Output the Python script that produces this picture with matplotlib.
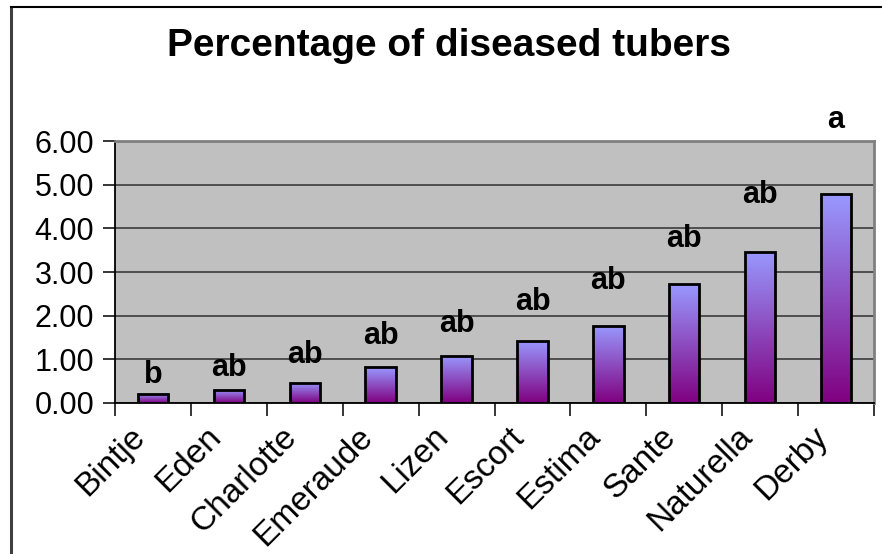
import matplotlib
matplotlib.use("Agg")
import matplotlib.pyplot as plt
import matplotlib.ticker as mticker
import matplotlib.transforms as mtransforms
from matplotlib.colors import LinearSegmentedColormap
from matplotlib.lines import Line2D
import numpy as np

VARIETIES = ["Bintje", "Eden", "Charlotte", "Emeraude", "Lizen",
             "Escort", "Estima", "Sante", "Naturella", "Derby"]
DISEASED_PCT = [0.21, 0.30, 0.46, 0.82, 1.08, 1.43, 1.77, 2.72, 3.46, 4.78]
GROUP_LETTERS = ["b", "ab", "ab", "ab", "ab", "ab", "ab", "ab", "ab", "a"]
LETTER_HEIGHT = [0.46, 0.62, 0.92, 1.35, 1.62, 2.13, 2.61, 3.58, 4.58, 6.29]
Y_TICKS = [0, 1, 2, 3, 4, 5, 6]

PLOT_BG = "#C0C0C0"
BAR_TOP = "#9999FF"
BAR_BOTTOM = "#800080"

plt.rcParams["font.family"] = ["Liberation Sans", "DejaVu Sans"]

fig = plt.figure(figsize=(8.82, 5.54), dpi=100)
fig.patch.set_facecolor("white")
ax = fig.add_axes([115 / 882, 1 - 403 / 554, (874 - 115) / 882, (403 - 141) / 554])
ax.set_facecolor(PLOT_BG)

x = np.arange(len(VARIETIES))
bars = ax.bar(x, DISEASED_PCT, width=0.40, facecolor="none",
              edgecolor="black", linewidth=2, zorder=4)

# per-bar vertical gradient, light on top, dark purple at the base
cmap = LinearSegmentedColormap.from_list("tuber", [BAR_BOTTOM, BAR_TOP])
grad = np.linspace(0, 1, 256).reshape(-1, 1)
for b in bars:
    bx, by, bw, bh = b.get_x(), b.get_y(), b.get_width(), b.get_height()
    im = ax.imshow(grad, cmap=cmap, origin="lower", aspect="auto",
                   extent=[bx, bx + bw, by, by + bh], zorder=3)
    im.set_clip_path(b)

for xi, lab, h in zip(x, GROUP_LETTERS, LETTER_HEIGHT):
    ax.text(xi, h, lab, ha="center", va="baseline", fontsize=22,
            fontweight="bold", color="black", clip_on=False, zorder=5)

ax.set_xlim(-0.5, len(VARIETIES) - 0.5)
ax.set_ylim(0, 6)
ax.set_yticks(Y_TICKS)
ax.yaxis.set_major_formatter(mticker.FormatStrFormatter("%.2f"))
ax.grid(axis="y", color="#303030", linewidth=1.1, zorder=1)
ax.set_axisbelow(True)

ax.set_xticks(x)
ax.set_xticklabels(VARIETIES, rotation=45, ha="right", rotation_mode="anchor")
ax.set_xticks(np.arange(-0.5, len(VARIETIES)), minor=True)
ax.tick_params(axis="x", which="major", length=0, pad=13, labelsize=24)
ax.tick_params(axis="x", which="minor", length=9, width=1.1, direction="out")
ax.tick_params(axis="y", length=9, width=1.1, direction="out", pad=6, labelsize=22)

shift = mtransforms.ScaledTranslation(-0.24, 0, fig.dpi_scale_trans)
for lbl in ax.get_xticklabels():
    lbl.set_transform(lbl.get_transform() + shift)

for side in ("left", "bottom"):
    ax.spines[side].set_color("black")
    ax.spines[side].set_linewidth(1.3)
for side in ("top", "right"):
    ax.spines[side].set_color("#808080")
    ax.spines[side].set_linewidth(2)

fig.text(449 / 882, 1 - 46 / 554, "Percentage of diseased tubers",
         ha="center", va="center", fontsize=28, fontweight="bold")

# chart-area frame (left and top edges visible)
fy = 1 - 7 / 554
fx = 11 / 882
fig.add_artist(Line2D([fx, fx], [0, fy], color="#404040", linewidth=2.2,
                      transform=fig.transFigure))
fig.add_artist(Line2D([fx, 1], [fy, fy], color="black", linewidth=1.5,
                      transform=fig.transFigure))

fig.savefig("out.png", dpi=100, facecolor="white")
